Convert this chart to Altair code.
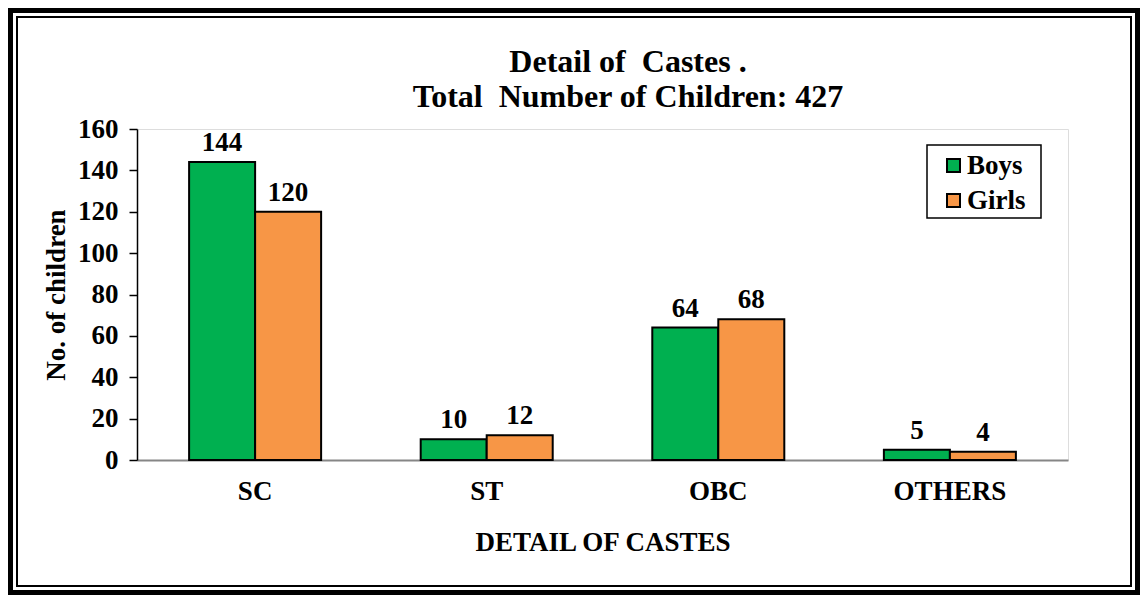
import altair as alt
import pandas as pd

categories = ["SC", "ST", "OBC", "OTHERS"]
boys = [144, 10, 64, 5]
girls = [120, 12, 68, 4]
series = ["Boys", "Girls"]
colors = ["#00B050", "#F79646"]
title_lines = ["Detail of\u00a0 Castes .", "Total\u00a0 Number of Children: 427"]

rows = []
for i, c in enumerate(categories):
    rows.append({"caste": c, "gender": "Boys", "count": boys[i]})
    rows.append({"caste": c, "gender": "Girls", "count": girls[i]})
df = pd.DataFrame(rows)

FONT = "Liberation Serif, Times New Roman, serif"
FS = 27
W, H = 931, 331
PL, PT, PR, PB = 129, 121, 72, 135

x = alt.X("caste:N", sort=categories, title="DETAIL OF CASTES",
          scale=alt.Scale(paddingInner=0.43, paddingOuter=0.225),
          axis=alt.Axis(labelAngle=0, labelFontSize=FS, labelFont=FONT, labelFontWeight="bold",
                        labelColor="black", labelPadding=18, ticks=False, domainColor="#868686",
                        domainWidth=2, titleFontSize=FS, titleFont=FONT, titleFontWeight="bold",
                        titleColor="black", titlePadding=25))
y = alt.Y("count:Q", title="No. of children",
          scale=alt.Scale(domain=[0, 160], nice=False),
          axis=alt.Axis(values=list(range(0, 161, 20)), grid=False, labelFontSize=FS,
                        labelFont=FONT, labelFontWeight="bold", labelColor="black",
                        labelPadding=11, tickColor="black", tickSize=8, tickWidth=1.5,
                        domainColor="black", domainWidth=1.5, titleFontSize=FS, titleFont=FONT,
                        titleFontWeight="bold", titleColor="black", titlePadding=7))
xo = alt.XOffset("gender:N", sort=series, scale=alt.Scale(paddingInner=0, paddingOuter=0))

bars = alt.Chart(df).mark_bar(stroke="black", strokeWidth=2).encode(
    x=x, y=y, xOffset=xo,
    color=alt.Color("gender:N", sort=series, scale=alt.Scale(domain=series, range=colors),
                    legend=alt.Legend(title=None, orient="none", legendX=803, legendY=23,
                                      padding=0, symbolType="square", symbolSize=169,
                                      symbolStrokeColor="black", symbolStrokeWidth=2,
                                      labelFontSize=FS, labelFont=FONT, labelFontWeight="bold",
                                      labelColor="black", rowPadding=7, labelOffset=0)),
)

labels = alt.Chart(df).mark_text(font=FONT, fontSize=FS, fontWeight="bold", color="black",
                                 baseline="alphabetic", dy=-11).encode(
    x=alt.X("caste:N", sort=categories), y="count:Q", xOffset=xo, text="count:Q"
)

one = pd.DataFrame({"k": [0]})
outer = alt.Chart(one).mark_rect(fill=None, stroke="black", strokeWidth=5, clip=False).encode(
    x=alt.value(-PL + 2.5), x2=alt.value(W + PR - 2.5),
    y=alt.value(-PT + 2.5), y2=alt.value(H + PB - 2.5)
)
inner = alt.Chart(one).mark_rect(fill=None, stroke="black", strokeWidth=2, clip=False).encode(
    x=alt.value(-PL + 9), x2=alt.value(W + PR - 9),
    y=alt.value(-PT + 9), y2=alt.value(H + PB - 9)
)
legend_box = alt.Chart(one).mark_rect(fill="white", stroke="black", strokeWidth=1.5).encode(
    x=alt.value(790), x2=alt.value(904), y=alt.value(16), y2=alt.value(89)
)
t1 = alt.Chart(one).mark_text(font=FONT, fontSize=32, fontWeight="bold", color="black",
                              align="center", baseline="alphabetic", clip=False).encode(
    x=alt.value(491), y=alt.value(-57), text=alt.value(title_lines[0])
)
t2 = alt.Chart(one).mark_text(font=FONT, fontSize=32, fontWeight="bold", color="black",
                              align="center", baseline="alphabetic", clip=False).encode(
    x=alt.value(491), y=alt.value(-22), text=alt.value(title_lines[1])
)

chart = alt.layer(outer, inner, t1, t2, bars, labels, legend_box).properties(
    width=W, height=H,
    padding={"left": PL, "top": PT, "right": PR, "bottom": PB},
    autosize=alt.AutoSizeParams(type="none"),
).configure_view(stroke="#868686", strokeWidth=2).configure(background="white")

chart.save("out.html", embed_options={"renderer": "svg", "actions": False})
